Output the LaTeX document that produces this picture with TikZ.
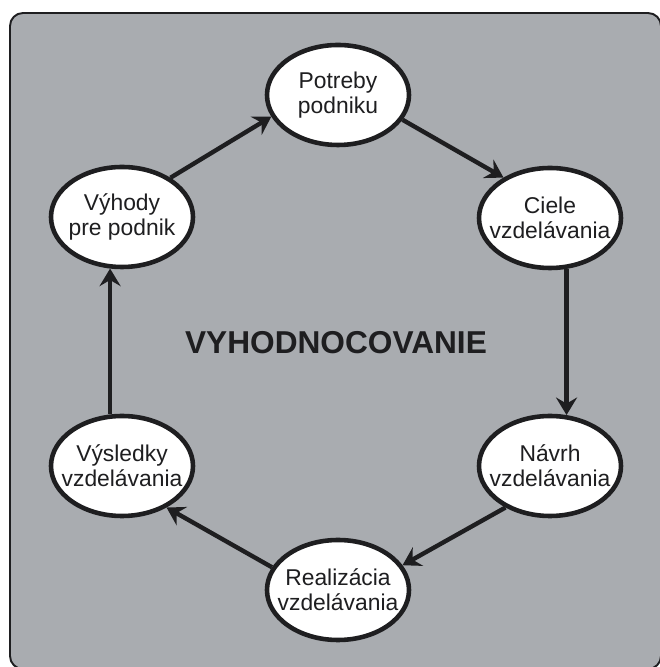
\documentclass[tikz,border=0pt]{standalone}
\usepackage{fontspec}
\setmainfont{Liberation Sans}
\usetikzlibrary{arrows.meta,shapes.geometric}
\definecolor{panelgray}{RGB}{169,172,176}
\definecolor{ink}{RGB}{30,30,32}

\begin{document}
\begin{tikzpicture}[auto,scale=1.0]
    \tikzstyle{frame}=[draw=ink,fill=panelgray,line width=1.1pt,rounded corners=0.26cm]
    \tikzstyle{stage}=[ellipse,draw=ink,fill=white,text=ink,line width=2.6pt,inner xsep=-10pt,inner ysep=0pt,minimum width=2.84cm,minimum height=2.0cm,align=center,font=\fontsize{13}{14.2}\selectfont]
    \tikzstyle{flow}=[draw=ink,line width=2.5pt,-{Stealth[length=10pt,width=12pt,inset=3.5pt]}]
    \tikzstyle{heading}=[text=ink,font=\fontsize{18}{20}\selectfont\bfseries]
    \useasboundingbox (0,0) rectangle (13.18,13.34);
    \path [frame] (0.2,-0.04) rectangle (13.22,13.08);
    \node (potreby)    at (6.76,11.44) [stage] {Potreby\\podniku};
    \node (ciele)      at (11.00,8.98) [stage] {Ciele\\vzdelávania};
    \node (navrh)      at (11.00,4.02) [stage] {Návrh\\vzdelávania};
    \node (realizacia) at (6.76,1.54)  [stage] {Realizácia\\vzdelávania};
    \node (vysledky)   at (2.44,4.02)  [stage] {Výsledky\\vzdelávania};
    \node (vyhody)     at (2.44,9.00)  [stage] {Výhody\\pre podnik};
    \node (title)      at (6.72,6.48)  [heading] {VYHODNOCOVANIE};
    \draw [flow] (vyhody.39)      -- (potreby.198);
    \draw [flow] (potreby.-21)    -- (ciele.139);
    \draw [flow] (ciele.-72)      -- (navrh.72);
    \draw [flow] (navrh.223)      -- (realizacia.21);
    \draw [flow] (realizacia.161) -- (vysledky.-43);
    \draw [flow] (vysledky.103)   -- (vyhody.-103);
\end{tikzpicture}
\end{document}
